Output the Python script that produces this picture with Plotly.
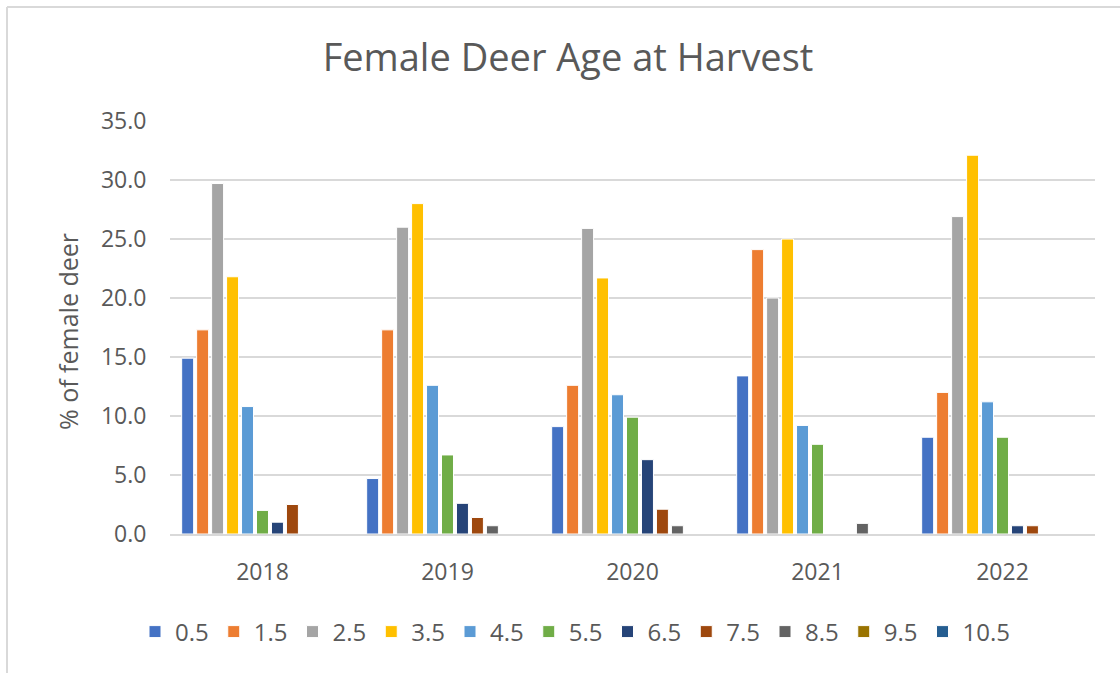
import plotly.graph_objects as go

years = ["2018", "2019", "2020", "2021", "2022"]
ages = ["0.5", "1.5", "2.5", "3.5", "4.5", "5.5", "6.5", "7.5", "8.5", "9.5", "10.5"]

age_0_5 = [14.9, 4.7, 9.1, 13.4, 8.2]
age_1_5 = [17.3, 17.3, 12.6, 24.1, 12.0]
age_2_5 = [29.7, 26.0, 25.9, 20.0, 26.9]
age_3_5 = [21.8, 28.0, 21.7, 25.0, 32.1]
age_4_5 = [10.8, 12.6, 11.8, 9.2, 11.2]
age_5_5 = [2.0, 6.7, 9.9, 7.6, 8.2]
age_6_5 = [1.0, 2.6, 6.3, 0.0, 0.7]
age_7_5 = [2.5, 1.4, 2.1, 0.0, 0.7]
age_8_5 = [0.0, 0.7, 0.7, 0.9, 0.0]
age_9_5 = [0.0, 0.0, 0.0, 0.0, 0.0]
age_10_5 = [0.0, 0.0, 0.0, 0.0, 0.0]

series = [age_0_5, age_1_5, age_2_5, age_3_5, age_4_5, age_5_5,
          age_6_5, age_7_5, age_8_5, age_9_5, age_10_5]
colors = ["#4472C4", "#ED7D31", "#A5A5A5", "#FFC000", "#5B9BD5", "#70AD47",
          "#264478", "#9E480E", "#636363", "#997300", "#255E91"]

FONT = "Open Sans"
TXT = "#595959"

fig = go.Figure()
for name, vals, col in zip(ages, series, colors):
    fig.add_trace(go.Bar(
        x=years, y=vals, name=name,
        marker=dict(color=col, line=dict(color="white", width=1)),
    ))

W, H = 1120, 675
L, R, T, B = 170, 25, 121, 141
pw, ph = W - L - R, H - T - B

def px(x):
    return (x - L) / pw

def py(y):
    return (H - B - y) / ph

fig.update_layout(
    width=W, height=H,
    margin=dict(l=L, r=R, t=T, b=B),
    paper_bgcolor="white", plot_bgcolor="white",
    barmode="group", bargap=0.11, bargroupgap=0.2,
    font=dict(family=FONT, color=TXT, size=23),
    title=dict(text="Female Deer Age at Harvest", x=568 / W, xanchor="center",
               y=1 - 58 / H, yanchor="middle", xref="container", yref="container",
               font=dict(size=38, color=TXT, family=FONT)),
    showlegend=True,
    legend=dict(orientation="h", x=135 / W, xanchor="left", xref="container",
                y=1 - 632 / H, yanchor="middle", yref="container",
                font=dict(size=24, color=TXT), itemwidth=30, traceorder="normal"),
    xaxis=dict(type="category", showgrid=False, showline=True, linecolor="#d9d9d9",
               linewidth=2, ticks="outside", ticklen=16, tickcolor="rgba(0,0,0,0)",
               tickfont=dict(size=23, color=TXT), automargin=False, fixedrange=True),
    yaxis=dict(range=[0, 35], dtick=5, tickformat=".1f", showgrid=True,
               gridcolor="#d9d9d9", gridwidth=2, zeroline=False, showline=False,
               ticks="outside", ticklen=18, tickcolor="rgba(0,0,0,0)",
               tickfont=dict(size=23, color=TXT), automargin=False, fixedrange=True),
    shapes=[
        dict(type="line", xref="paper", yref="paper", x0=px(7), x1=px(1125),
             y0=py(7), y1=py(7), line=dict(color="#d9d9d9", width=2)),
        dict(type="line", xref="paper", yref="paper", x0=px(7), x1=px(7),
             y0=py(7), y1=py(673), line=dict(color="#d9d9d9", width=2)),
    ],
    annotations=[
        dict(text="% of female deer", xref="paper", yref="paper", x=px(68), y=py(332),
             xanchor="center", yanchor="middle", textangle=-90, showarrow=False,
             font=dict(size=25, color=TXT, family=FONT)),
    ],
)

fig.write_html("out.html", config={"displayModeBar": False},
               post_script="document.body.style.margin='0';")
